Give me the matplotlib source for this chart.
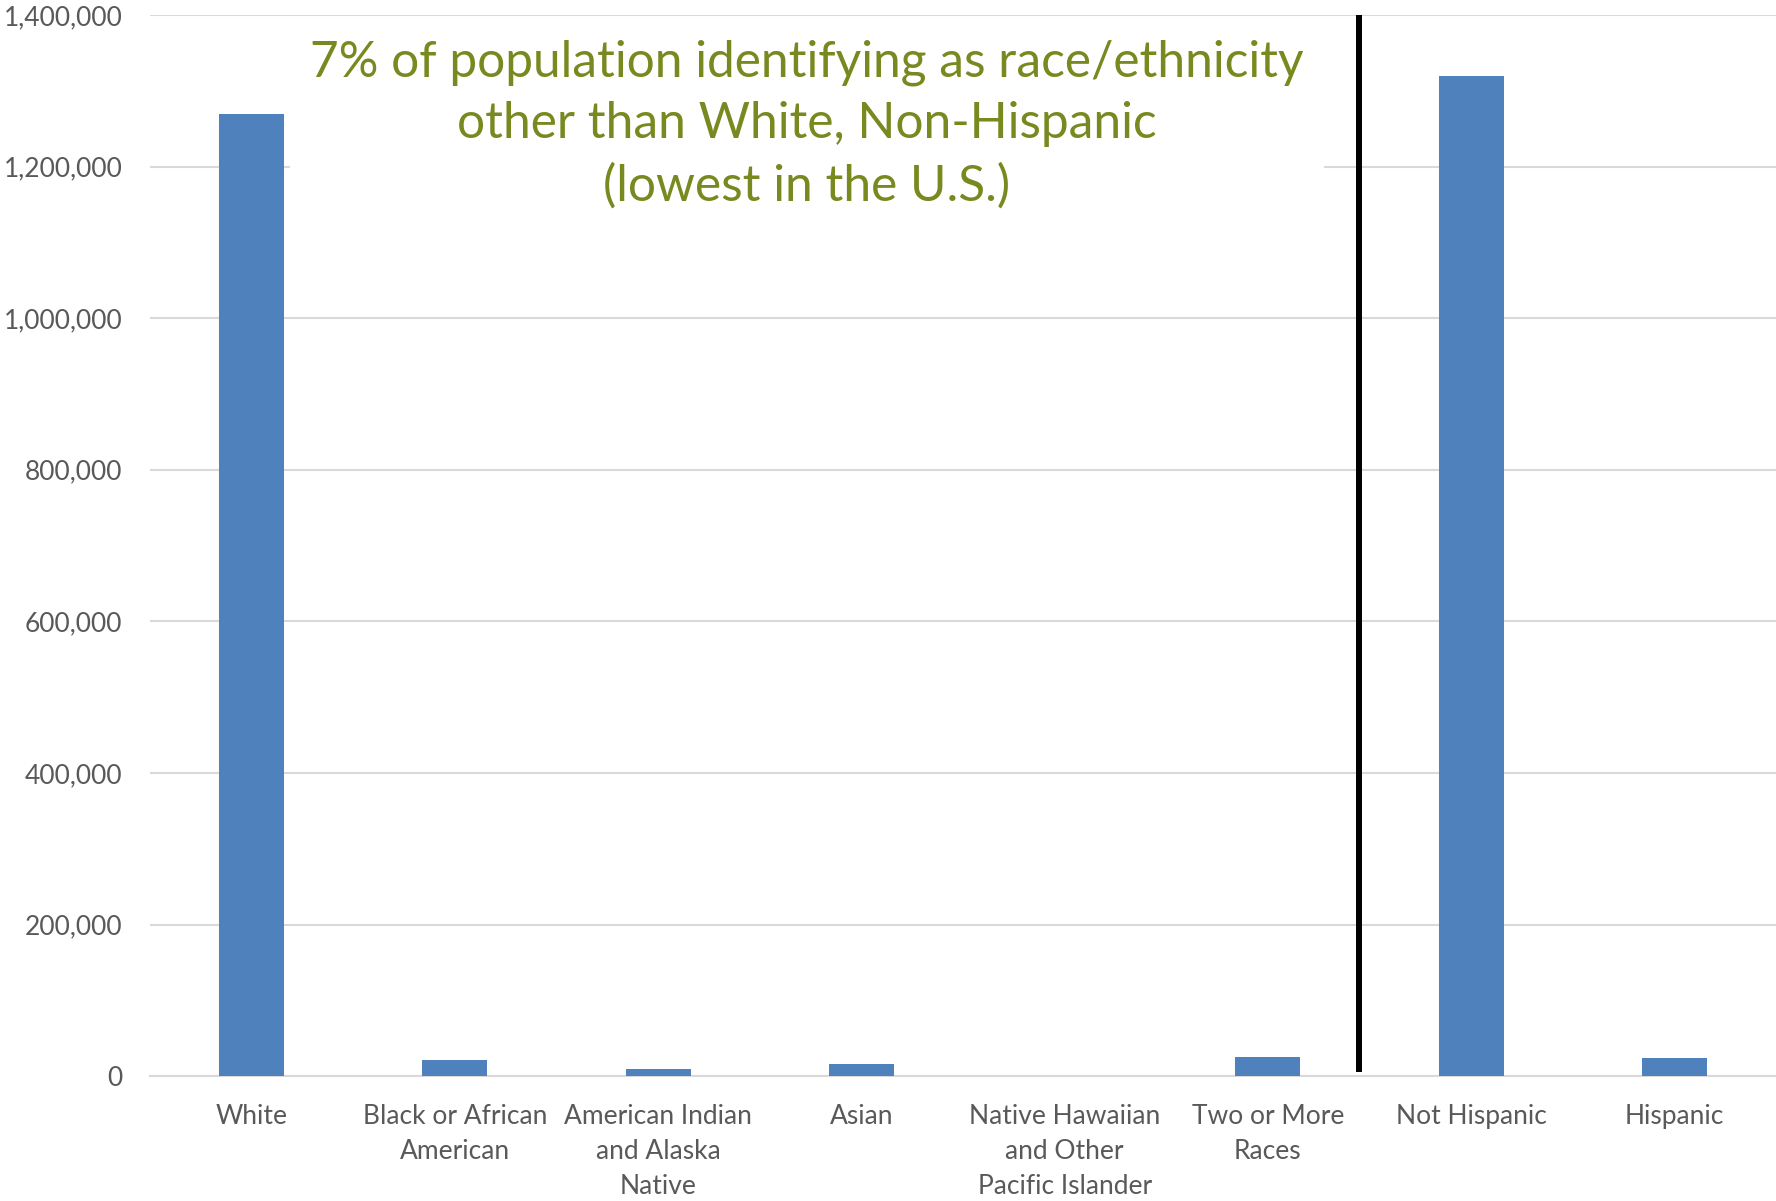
import matplotlib.pyplot as plt
from matplotlib.ticker import FuncFormatter

plt.rcParams['font.family'] = ['Lato', 'DejaVu Sans']

categories = ["White", "Black or African\nAmerican", "American Indian\nand Alaska\nNative",
              "Asian", "Native Hawaiian\nand Other\nPacific Islander", "Two or More\nRaces",
              "Not Hispanic", "Hispanic"]
population = [1269000, 21500, 9400, 16100, 400, 25500, 1319000, 23500]
yticks = [0, 200000, 400000, 600000, 800000, 1000000, 1200000, 1400000]
divider_x = 5.45
note = "7% of population identifying as race/ethnicity\nother than White, Non-Hispanic\n(lowest in the U.S.)"

fig = plt.figure(figsize=(17.76, 12.01), dpi=100)
ax = fig.add_axes([0.0845, 0.104, 0.9155, 0.8835])

x = range(len(categories))
ax.bar(x, population, width=0.32, color='#4f81bd', zorder=3)

ax.set_xlim(-0.5, len(categories) - 0.5)
ax.set_ylim(0, 1400000)
ax.set_yticks(yticks)
ax.yaxis.set_major_formatter(FuncFormatter(lambda v, p: f"{int(v):,}"))
ax.set_xticks(list(x))
ax.set_xticklabels(categories, linespacing=1.5)
ax.tick_params(axis='both', length=0, labelsize=19, colors='#595959')
ax.tick_params(axis='y', pad=20)
ax.tick_params(axis='x', pad=20)

ax.grid(axis='y', color='#d9d9d9', linewidth=1.5, zorder=0)
for s in ['top', 'right', 'left']:
    ax.spines[s].set_visible(False)
ax.spines['bottom'].set_color('#d9d9d9')
ax.spines['bottom'].set_linewidth(1.5)

# divider between race and ethnicity groups
ax.plot([divider_x, divider_x], [6000, 1400000], color='black', linewidth=4.3, zorder=4,
        solid_capstyle='butt')

ax.text(0.404, 0.897, note, transform=ax.transAxes, ha='center', va='center',
        fontsize=35.7, color='#77891f', linespacing=1.42, zorder=5,
        bbox=dict(boxstyle='square,pad=0.4', facecolor='white', edgecolor='none'))

fig.savefig('out.png', dpi=100)
